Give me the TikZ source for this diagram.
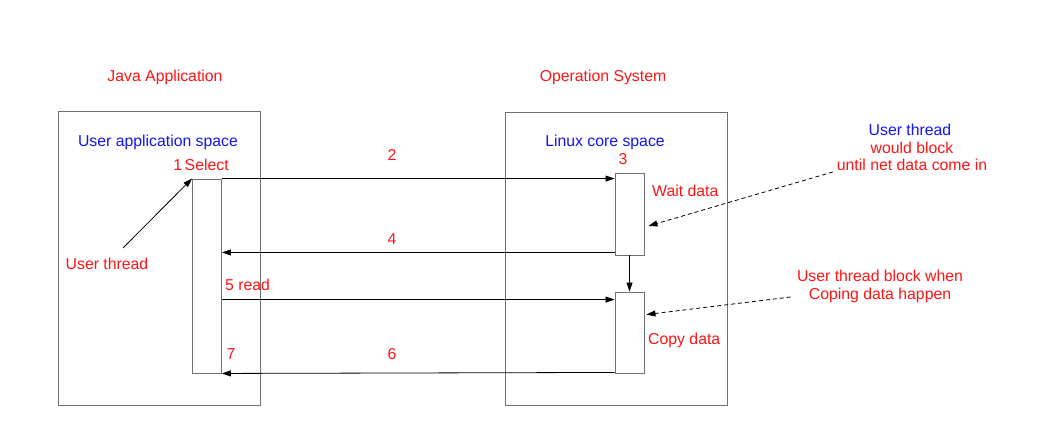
\documentclass[tikz,border=0pt]{standalone}
\usepackage{fontspec}
\setmainfont{Liberation Sans}
\usetikzlibrary{arrows.meta,positioning}
\definecolor{framegray}{RGB}{112,112,112}
\definecolor{notered}{RGB}{255,20,20}
\definecolor{noteblue}{RGB}{20,20,240}

\tikzset{
  space/.style={draw=framegray,line width=0.9pt,inner sep=0pt},
  bar/.style={draw=framegray,line width=0.9pt,inner sep=0pt,minimum width=29pt},
  lbl/.style={inner sep=0pt,text=notered,font=\fontsize{15.8}{18}\selectfont},
  blbl/.style={lbl,text=noteblue},
  call/.style={line width=0.8pt,-{Triangle[length=9pt,width=6pt]}},
  hint/.style={call,dash pattern=on 4pt off 3pt}
}

\begin{document}
\begin{tikzpicture}[x=1pt,y=-1pt]
     \useasboundingbox (0,0) rectangle (1040,446);
     % the two spaces
     \node[space,minimum width=202pt,minimum height=294pt] (javabox) at (159,258) {};
     \node[space,minimum width=222pt,minimum height=293pt] (osbox)   at (616,258.5) {};
     \node[lbl]  (javatitle) at (165,77) {Java Application};
     \node[lbl]  (ostitle)   at (603,77) {Operation System};
     \node[blbl] (userspace) at (158,142) {User application space};
     \node[blbl] (corespace) at (605,142) {Linux core space};
     % activation bars
     \node[bar,minimum height=194pt] (lbar)  at (207,276) {};
     \node[bar,minimum height=82pt]  (waitb) at (629.5,214) {};
     \node[bar,minimum height=81pt]  (copyb) at (629.5,332.5) {};
     % step labels
     \node[lbl] (s1) at (201,165) {1\,Select};
     \node[lbl] (s2) at (392,155) {2};
     \node[lbl] (s3) at (623,159) {3};
     \node[lbl] (s4) at (392,239) {4};
     \node[lbl,anchor=west] (s5) at (225,285) {5 read};
     \node[lbl] (s6) at (392,354) {6};
     \node[lbl] (s7) at (231,354) {7};
     \node[lbl,anchor=west] (waitlbl) at (652,191) {Wait data};
     \node[lbl,anchor=west] (copylbl) at (648,340) {Copy data};
     \node[lbl] (uthread) at (107,264) {User thread};
     % notes on the right
     \node[blbl] (noteA) at (910,130) {User thread};
     \node[lbl]  (noteB) at (912,148) {would block};
     \node[lbl]  (noteC) at (912,165) {until net data come in};
     \node[lbl]  (noteD) at (880,276) {User thread block when};
     \node[lbl]  (noteE) at (880,295) {Coping data happen};
     % calls between the bars
     \draw[call] (lbar.north east) -- (lbar.north east -| waitb.west);
     \draw[call] ([yshift=3pt]waitb.south west) -- ([yshift=3pt]waitb.south west -| lbar.east);
     \draw[call] ([yshift=-8pt]copyb.north west -| lbar.east) -- ([yshift=-8pt]copyb.north west);
     \draw[call] ([yshift=1pt]copyb.south west) -- (lbar.south east);
     \draw[call] (waitb.south) -- (copyb.north);
     \draw[call] ([shift={(16pt,10pt)}]uthread.north) -- (lbar.north west);
     % blocking hints
     \draw[hint] ([shift={(-4pt,-7pt)}]noteC.west) -- ([shift={(4pt,-12pt)}]waitb.east);
     \draw[hint] ([shift={(-18pt,-2pt)}]noteE.west) -- ([shift={(2pt,-23pt)}]copyb.north east);
    \end{tikzpicture}
\end{document}
